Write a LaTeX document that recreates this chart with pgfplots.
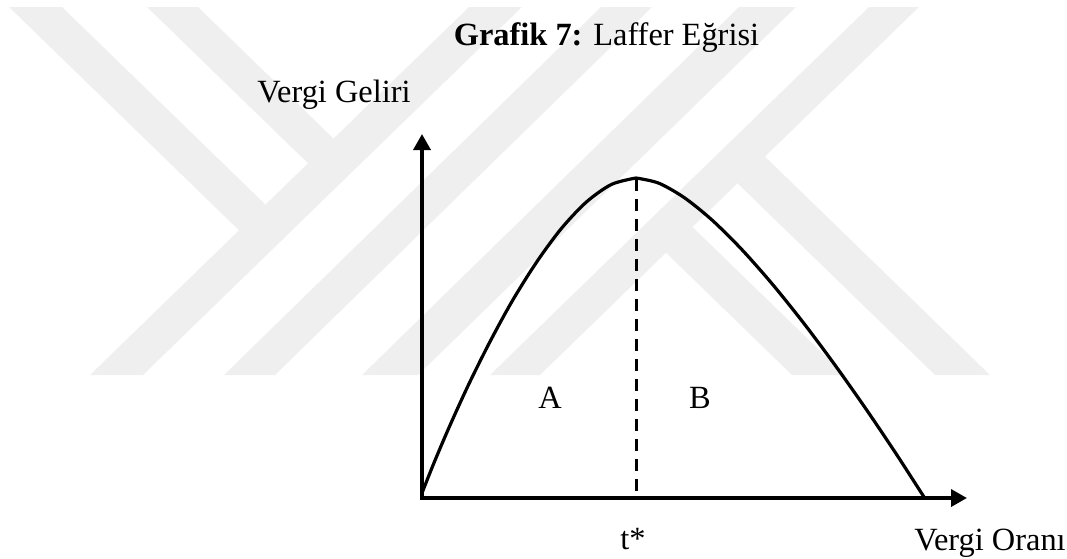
\documentclass[border=0pt]{standalone}
\usepackage{pgfplots}
\pgfplotsset{compat=1.18}
\usetikzlibrary{arrows.meta}
\usepackage{fontspec}
\setmainfont{Liberation Serif}

\definecolor{wmgray}{RGB}{239,239,239}

% Coordinates are in the 1067 x 558 drawing grid (y grows downwards).
% Laffer curve: rising branch up to the revenue-maximising rate t*
\pgfplotstableread{
x      y
422.0  493.0
434.3  462.1
450.0  425.3
468.5  384.8
489.4  342.8
512.0  301.4
536.2  262.7
561.1  228.8
586.4  202.0
611.5  184.4
636.0  178.0
}\risingbranch
% falling branch beyond t*
\pgfplotstableread{
x      y
636.0  178.0
658.6  183.1
684.2  197.6
712.1  220.1
741.7  249.4
772.5  284.3
803.9  323.4
835.3  365.5
866.2  409.3
896.0  453.6
924.0  497.0
}\fallingbranch

\begin{document}
\begin{tikzpicture}
\useasboundingbox (0,0) rectangle (533.5pt,279pt);
\begin{axis}[
  scale only axis,
  width=533.5pt, height=279pt,
  xmin=0, xmax=1067, ymin=0, ymax=558,
  y dir=reverse,
  hide axis,
  clip=false,
  font=\fontsize{16.2pt}{19.5pt}\selectfont,
]
% background emblem: diagonal bands
\pgfplotsset{band/.style={draw=none, fill=wmgray, forget plot}}
\addplot[band] coordinates {(90,375) (143,375) (522,7) (469,7) (90,375)};
\addplot[band] coordinates {(224,375) (275,375) (652,7) (601,7) (224,375)};
\addplot[band] coordinates {(362,375) (418,375) (796,7) (739,7) (362,375)};
\addplot[band] coordinates {(490,375) (540,375) (919,7) (869,7) (490,375)};
\addplot[band] coordinates {(9,7) (62,7) (265.5,204.6) (239,230.3) (9,7)};
\addplot[band] coordinates {(147,7) (198,7) (333.5,138.6) (308,163.3) (147,7)};
\addplot[band] coordinates {(666,252.7) (692.5,227) (845,375) (792,375) (666,252.7)};
\addplot[band] coordinates {(737.5,183.3) (765,156.6) (990,375) (935,375) (737.5,183.3)};

% axes with arrow heads
\addplot[black, line width=1.8pt, -{Triangle[length=8pt,width=8.5pt]}]
  coordinates {(422,499.8) (422,134)};
\addplot[black, line width=1.8pt, -{Triangle[length=8pt,width=8.5pt]}]
  coordinates {(421.1,498) (967,498)};

% revenue-maximising rate
\addplot[black, line width=1.5pt, dash pattern=on 6pt off 4pt]
  coordinates {(636,179) (636,497)};

% Laffer curve
\addplot[black, line width=1.6pt, smooth] table {\risingbranch};
\addplot[black, line width=1.6pt, smooth] table {\fallingbranch};

% labels
\node[anchor=base, inner sep=0pt] at (axis cs:606.5,45) {\textbf{Grafik 7:} Laffer Eğrisi};
\node[anchor=base, inner sep=0pt] at (axis cs:334,102) {Vergi Geliri};
\node[anchor=base, inner sep=0pt] at (axis cs:550,408) {A};
\node[anchor=base, inner sep=0pt] at (axis cs:700,408) {B};
\node[anchor=base, inner sep=0pt] at (axis cs:633,549) {t*};
\node[anchor=base, inner sep=0pt] at (axis cs:990,550) {Vergi Oranı};
\end{axis}
\end{tikzpicture}
\end{document}
